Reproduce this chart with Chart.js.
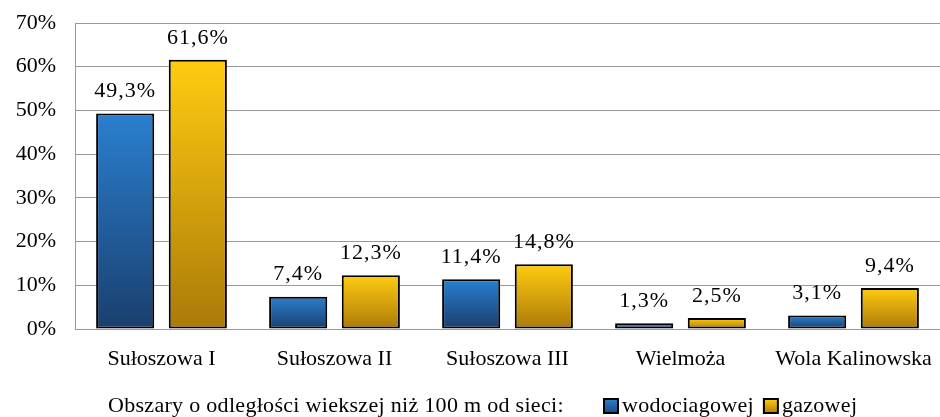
<!DOCTYPE html>
<html>
<head>
<meta charset="utf-8">
<script src="https://cdn.jsdelivr.net/npm/chart.js@4.4.1/dist/chart.umd.min.js"></script>
<style>
  html, body { margin: 0; padding: 0; background: #fff; }
  #wrap { width: 940px; height: 417px; }
</style>
</head>
<body>
<div id="wrap"><canvas id="myChart" width="940" height="417"></canvas></div>
<script>
const categories = ['Sułoszowa I', 'Sułoszowa II', 'Sułoszowa III', 'Wielmoża', 'Wola Kalinowska'];
const wodociagowej = [49.3, 7.4, 11.4, 1.3, 3.1];
const gazowej = [61.6, 12.3, 14.8, 2.5, 9.4];
const legendTitle = 'Obszary o odległości wiekszej niż 100 m od sieci:';

const serif = '"Liberation Serif", "Times New Roman", serif';

// gradient per bar, light on top, dark at the base
function barGradient(top, bottom) {
    return function(context) {
        const chart = context.chart;
        const area = chart.chartArea;
        if (!area || context.type !== 'data') return top;
        const yScale = chart.scales.y;
        const yTop = yScale.getPixelForValue(context.parsed.y);
        const yBase = yScale.getPixelForValue(0);
        if (!(yBase > yTop)) return top;
        const g = chart.ctx.createLinearGradient(0, yTop, 0, yBase);
        g.addColorStop(0, top);
        g.addColorStop(1, bottom);
        return g;
    };
}

const fmt = v => v.toFixed(1).replace('.', ',') + '%';

const valueLabels = {
    id: 'valueLabels',
    afterDatasetsDraw(chart) {
        const c = chart.ctx;
        c.save();
        c.font = '22px ' + serif;
        c.letterSpacing = '1px';
        c.fillStyle = '#000';
        c.textAlign = 'center';
        c.textBaseline = 'bottom';
        chart.data.datasets.forEach((ds, i) => {
            chart.getDatasetMeta(i).data.forEach((bar, j) => {
                c.fillText(fmt(ds.data[j]), bar.x, bar.y - 11);
            });
        });
        c.restore();
    }
};

const bottomLegend = {
    id: 'bottomLegend',
    afterDraw(chart) {
        const c = chart.ctx;
        c.save();
        c.font = '22px ' + serif;
        c.letterSpacing = '0.3px';
        c.fillStyle = '#000';
        c.textBaseline = 'middle';
        const y = 406;
        c.fillText(legendTitle, 108, y);
        let x = 604;
        const swatches = [['#2a7fcf', '#1a4a80'], ['#ffcc10', '#b07d08']];
        chart.data.datasets.forEach((ds, i) => {
            const g = c.createLinearGradient(0, y - 7, 0, y + 7);
            g.addColorStop(0, swatches[i][0]);
            g.addColorStop(1, swatches[i][1]);
            c.fillStyle = g;
            c.fillRect(x, y - 7, 14, 14);
            c.lineWidth = 2;
            c.strokeStyle = '#000';
            c.strokeRect(x, y - 7, 14, 14);
            c.fillStyle = '#000';
            c.fillText(ds.label, x + 18, y);
            x += 18 + c.measureText(ds.label).width + 10;
        });
        c.restore();
    }
};

const data = {
    labels: categories,
    datasets: [{
        label: 'wodociagowej',
        data: wodociagowej,
        backgroundColor: barGradient('#2a7fcf', '#1a3f6e'),
        borderColor: '#000',
        borderWidth: 2,
        borderSkipped: false
    }, {
        label: 'gazowej',
        data: gazowej,
        backgroundColor: barGradient('#ffcc10', '#ab7a08'),
        borderColor: '#000',
        borderWidth: 2,
        borderSkipped: false
    }]
};

const config = {
    type: 'bar',
    data: data,
    options: {
        responsive: false,
        animation: false,
        layout: { padding: { top: 23, right: 0, bottom: 38, left: 0 } },
        categoryPercentage: 0.84,
        barPercentage: 0.8,
        plugins: {
            legend: { display: false },
            tooltip: { enabled: false }
        },
        scales: {
            x: {
                grid: { display: false },
                border: { color: '#999', width: 1 },
                ticks: { color: '#000', font: { family: serif, size: 22 }, padding: 9, maxRotation: 0 },
                afterFit: s => { s.height = 50; s.paddingLeft = 0; s.paddingRight = 0; }
            },
            y: {
                min: 0,
                max: 70,
                ticks: {
                    stepSize: 10,
                    color: '#000',
                    font: { family: serif, size: 22 },
                    padding: 19,
                    callback: v => v + '%'
                },
                grid: { color: '#999', drawTicks: false },
                border: { color: '#999', width: 1 },
                afterFit: s => { s.width = 75; s.paddingTop = 0; s.paddingBottom = 0; }
            }
        }
    },
    plugins: [valueLabels, bottomLegend]
};

const myChart = new Chart(document.getElementById('myChart'), config);
</script>
</body>
</html>
